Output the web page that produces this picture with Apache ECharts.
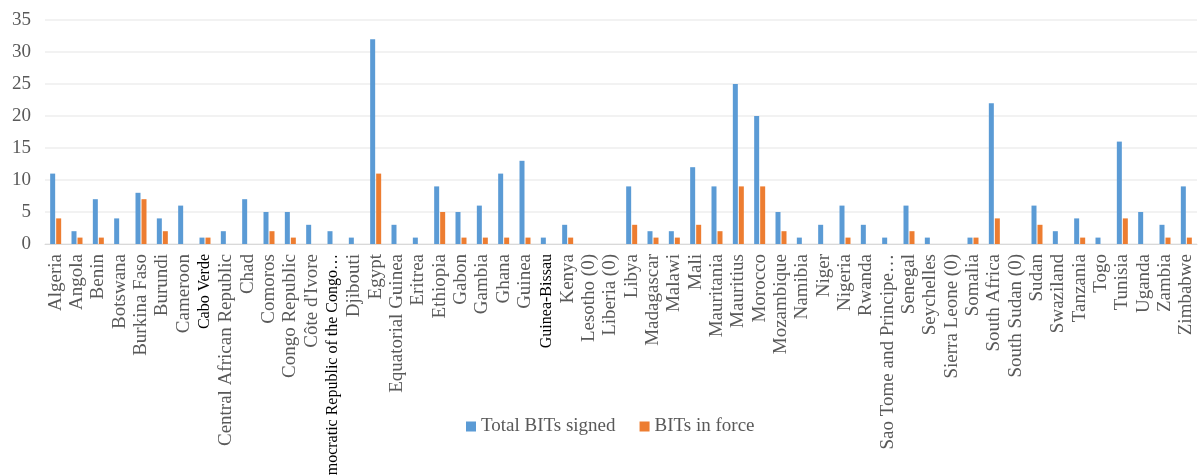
<!DOCTYPE html>
<html>
<head>
<meta charset="utf-8">
<script src="https://cdn.jsdelivr.net/npm/echarts@6/dist/echarts.min.js"></script>
<style>
  html, body { margin: 0; padding: 0; background: #fff; }
  #chart { width: 1199px; height: 475px; }
</style>
</head>
<body>
<div id="chart"></div>
<script>
// 国家（类目）
var countries = ['Algeria', 'Angola', 'Benin', 'Botswana', 'Burkina Faso', 'Burundi', 'Cameroon', 'Cabo Verde',
  'Central African Republic', 'Chad', 'Comoros', 'Congo Republic', "Côte d'Ivore", 'Democratic Republic of the Congo…',
  'Djibouti', 'Egypt', 'Equatorial Guinea', 'Eritrea', 'Ethiopia', 'Gabon', 'Gambia', 'Ghana', 'Guinea', 'Guinea-Bissau',
  'Kenya', 'Lesotho (0)', 'Liberia (0)', 'Libya', 'Madagascar', 'Malawi', 'Mali', 'Mauritania', 'Mauritius', 'Morocco',
  'Mozambique', 'Namibia', 'Niger', 'Nigeria', 'Rwanda', 'Sao Tome and Principe…', 'Senegal', 'Seychelles',
  'Sierra Leone (0)', 'Somalia', 'South Africa', 'South Sudan (0)', 'Sudan', 'Swaziland', 'Tanzania', 'Togo',
  'Tunisia', 'Uganda', 'Zambia', 'Zimbabwe'];
// 签署总数
var totalSigned = [11, 2, 7, 4, 8, 4, 6, 1, 2, 7, 5, 5, 3, 2, 1, 32, 3, 1, 9, 5, 6, 11, 13, 1, 3, 0, 0, 9, 2, 2,
  12, 9, 25, 20, 5, 1, 3, 6, 3, 1, 6, 1, 0, 1, 22, 0, 6, 2, 4, 1, 16, 5, 3, 9];
// 生效数
var inForce = [4, 1, 1, 0, 7, 2, 0, 1, 0, 0, 2, 1, 0, 0, 0, 11, 0, 0, 5, 1, 1, 1, 1, 0, 1, 0, 0, 3, 1, 1,
  3, 2, 9, 9, 2, 0, 0, 1, 0, 0, 2, 0, 0, 1, 4, 0, 3, 0, 1, 0, 4, 0, 1, 1];
// 黑色字体的标签
var blackLabels = ['Cabo Verde', 'Democratic Republic of the Congo…', 'Guinea-Bissau'];

var myChart = echarts.init(document.getElementById('chart'));
var option = {
  animation: false,
  color: ['#5b9bd5', '#ed7d31'],
  legend: {
    top: 412,
    left: 461,
    itemWidth: 10,
    itemHeight: 10,
    itemGap: 24,
    icon: 'rect',
    textStyle: { color: '#595959', fontSize: 19, fontFamily: 'Liberation Serif' }
  },
  grid: { left: 45, right: 2, top: 20, bottom: 231, containLabel: false, outerBoundsMode: 'none' },
  xAxis: {
    type: 'category',
    data: countries,
    axisTick: { show: false },
    axisLine: { lineStyle: { color: '#d9d9d9' } },
    axisLabel: {
      interval: 0,
      rotate: 90,
      margin: 10,
      color: '#595959',
      fontSize: 19,
      fontFamily: 'Liberation Serif',
      formatter: function (v) {
        return blackLabels.indexOf(v) >= 0 ? '{b|' + v + '}' : v;
      },
      rich: {
        b: { color: '#000', fontSize: 16, fontFamily: 'Liberation Serif' }
      }
    }
  },
  yAxis: {
    type: 'value',
    min: 0,
    max: 35,
    interval: 5,
    axisLine: { show: false },
    axisTick: { show: false },
    axisLabel: { color: '#595959', fontSize: 19, fontFamily: 'Liberation Serif', margin: 14 },
    splitLine: { lineStyle: { color: '#eeeeee', width: 1.5 } }
  },
  series: [
    {
      name: 'Total BITs signed',
      type: 'bar',
      barWidth: 5,
      barGap: '20%',
      data: totalSigned
    },
    {
      name: 'BITs in force',
      type: 'bar',
      barWidth: 5,
      data: inForce
    }
  ]
};
myChart.setOption(option);
</script>
</body>
</html>
